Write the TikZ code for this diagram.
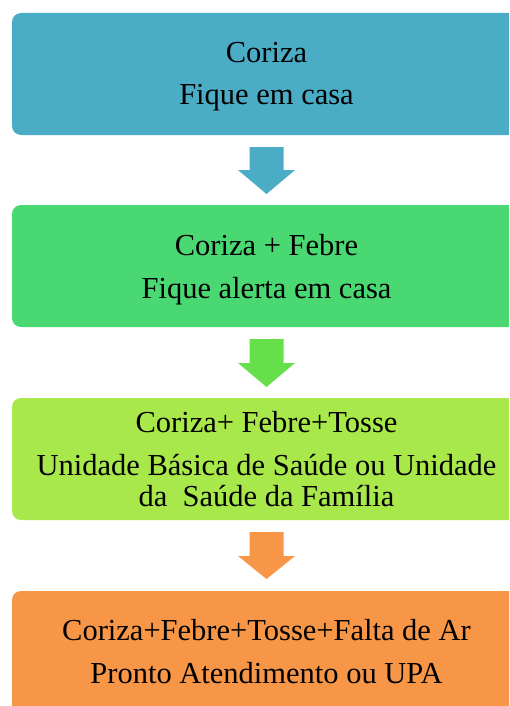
\documentclass[tikz,border=0pt]{standalone}
\usepackage{fontspec}
\setmainfont{Liberation Serif}
\definecolor{cblue}{HTML}{4BACC6}
\definecolor{cgreen}{HTML}{4AD872}
\definecolor{carrowgreen}{HTML}{66E04A}
\definecolor{clime}{HTML}{A9E84A}
\definecolor{corange}{HTML}{F79646}
\begin{document}
\begin{tikzpicture}[x=1pt,y=-1pt,
  box/.style={rounded corners=9pt},
  txt/.style={anchor=base,inner sep=0pt,font=\fontsize{30.5}{36}\selectfont},
  blockarrow/.style={}]
\useasboundingbox (0,0) rectangle (509,706);
\clip (0,0) rectangle (509,706);
% boxes
\fill[cblue,box] (12,13) rectangle (521,135);
\fill[cgreen,box] (12,205) rectangle (521,327);
\fill[clime,box] (12,398) rectangle (521,520);
\fill[corange,box] (12,591) rectangle (521,740);
\coordinate (b1) at (266.5,135);
\coordinate (b2) at (266.5,327);
\coordinate (b3) at (266.5,520);
% block arrows
\fill[cblue] (249.5,147) -- (283.5,147) -- (283.5,170) -- (295,170) -- (266.5,194) -- (238,170) -- (249.5,170) -- cycle;
\fill[carrowgreen] (249.5,339) -- (283.5,339) -- (283.5,363) -- (295,363) -- (266.5,387) -- (238,363) -- (249.5,363) -- cycle;
\fill[corange] (249.5,532) -- (283.5,532) -- (283.5,556) -- (295,556) -- (266.5,579) -- (238,556) -- (249.5,556) -- cycle;
% texts
\node[txt] (t11) at (266.5,63) {Coriza};
\node[txt] (t12) at (266.5,105) {Fique em casa};
\node[txt] (t21) at (266.5,255) {Coriza + Febre};
\node[txt] (t22) at (266.5,298) {Fique alerta em casa};
\node[txt] (t31) at (266.5,432) {Coriza+ Febre+Tosse};
\node[txt] (t32) at (266.5,475) {Unidade Básica de Saúde ou Unidade};
\node[txt] (t33) at (266.5,506) {da\ \ Saúde da Família};
\node[txt] (t41) at (266.5,640) {Coriza+Febre+Tosse+Falta de Ar};
\node[txt] (t42) at (266.5,683) {Pronto Atendimento ou UPA};
\end{tikzpicture}
\end{document}
